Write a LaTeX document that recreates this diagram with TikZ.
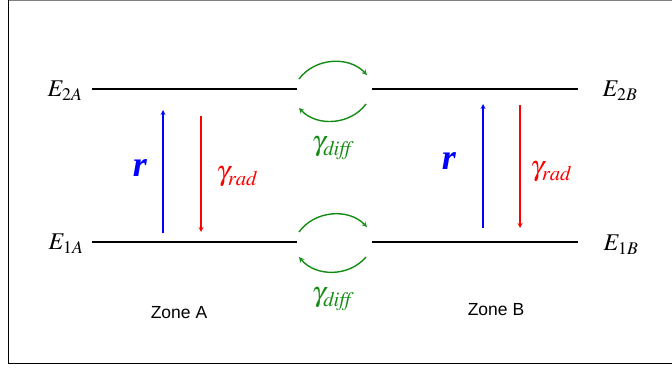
\documentclass[tikz,border=0pt]{standalone}
\usepackage{fontspec}
\usepackage{mathptmx}
\setmainfont{Liberation Serif}
\newfontfamily\zonefont{Liberation Sans}
\usetikzlibrary{arrows}
\definecolor{diffgreen}{RGB}{20,140,20}

\begin{document}
\begin{tikzpicture}[x=1pt,y=-1pt]
\tikzstyle{lev}=[line width=1.6pt, black]
\tikzstyle{up}=[line width=1.2pt, blue, -stealth]
\tikzstyle{down}=[line width=1.2pt, red, -stealth]
\tikzstyle{hop}=[line width=1.4pt, diffgreen, -stealth]
\tikzstyle{elab}=[inner sep=0pt, font=\fontsize{24}{26}\selectfont]
\tikzstyle{rlab}=[inner sep=0pt, blue, font=\fontsize{36}{38}\selectfont\bfseries\itshape]
\tikzstyle{glab}=[inner sep=0pt, font=\fontsize{28}{30}\selectfont]
\tikzstyle{zone}=[inner sep=0pt, font=\zonefont\fontsize{17.5}{19}\selectfont]
\useasboundingbox (0,0) rectangle (672,367);
% frame
\draw[line width=0.8pt, gray] (8,0.5) -- (672,0.5);
\draw[line width=1.6pt] (8.5,0) -- (8.5,363.5) -- (672,363.5);
% levels
\coordinate (a2l) at (92,89);  \coordinate (a2r) at (297,89);
\coordinate (a1l) at (92,242); \coordinate (a1r) at (297,242);
\coordinate (b2l) at (372,89); \coordinate (b2r) at (578,89);
\coordinate (b1l) at (372,242);\coordinate (b1r) at (578,242);
\draw[lev] (a2l) -- (a2r);
\draw[lev] (a1l) -- (a1r);
\draw[lev] (b2l) -- (b2r);
\draw[lev] (b1l) -- (b1r);
\node[elab] (e2a) at (65,91) {$E_{2A}$};
\node[elab] (e1a) at (66,244) {$E_{1A}$};
\node[elab] (e2b) at (620,91) {$E_{2B}$};
\node[elab] (e1b) at (621,245) {$E_{1B}$};
%zone A
\coordinate (ra0) at (163,233); \coordinate (ra1) at (163,110);
\coordinate (ga0) at (201,116); \coordinate (ga1) at (201,232);
\draw[up] (ra0) -- (ra1);
\draw[down] (ga0) -- (ga1);
\node[rlab] (rA) at (140,168) {r};
\node[glab, red] (gA) at (237,177) {$\gamma_{\mathit{rad}}$};
%zone B
\coordinate (rb0) at (483,228); \coordinate (rb1) at (483,104);
\coordinate (gb0) at (520,105); \coordinate (gb1) at (520,228);
\draw[up] (rb0) -- (rb1);
\draw[down] (gb0) -- (gb1);
\node[rlab] (rB) at (449,161) {r};
\node[glab, red] (gB) at (551,172) {$\gamma_{\mathit{rad}}$};
%diffusion
\coordinate (h1) at (299,79);  \coordinate (h2) at (367,75);
\coordinate (h3) at (366,104); \coordinate (h4) at (299,108);
\coordinate (h5) at (299,232); \coordinate (h6) at (367,227);
\coordinate (h7) at (366,257); \coordinate (h8) at (299,257);
\draw[hop] (h1) to[bend left=50] (h2);
\draw[hop] (h3) to[bend left=50] (h4);
\draw[hop] (h5) to[bend left=50] (h6);
\draw[hop] (h7) to[bend left=50] (h8);
\node[glab, diffgreen] (d1) at (333,148) {$\gamma_{\mathit{diff}}$};
\node[glab, diffgreen] (d2) at (333,299) {$\gamma_{\mathit{diff}}$};
\node[zone] (za) at (179,313) {Zone A};
\node[zone] (zb) at (496,310) {Zone B};
\end{tikzpicture}
\end{document}
